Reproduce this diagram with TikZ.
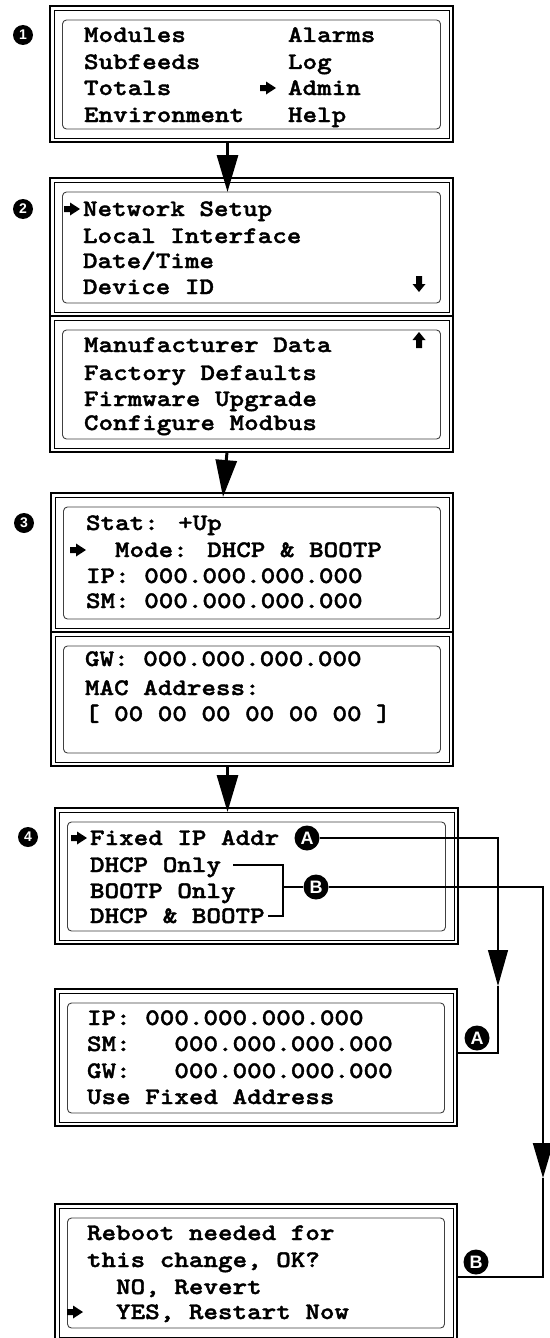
\documentclass[tikz,border=0pt]{standalone}
\usepackage{fontspec}
\newfontfamily\lcdfont{lmmonolt10-bold.otf}[FakeStretch=1.17,FakeBold=1.6]
\newfontfamily\circfont{Liberation Sans}
\usetikzlibrary{arrows.meta,fit}
\tikzset{
 scr/.style={draw, line width=2.8pt, inner sep=0pt, outer sep=0pt, rectangle},
 thinframe/.style={line width=0.8pt},
 lcdframe/.style={line width=0.9pt, draw=black!75, rounded corners=4pt},
 txt/.style={anchor=west, inner sep=0pt, outer sep=0pt, text height=14pt, text depth=0pt,
   font=\lcdfont\fontsize{23.7}{26}\selectfont},
 numc/.style={circle, fill=black, text=white, inner sep=0pt, minimum size=20pt,
   font=\circfont\bfseries\fontsize{14}{14}\selectfont},
 letc/.style={circle, fill=black, text=white, inner sep=0pt, minimum size=25pt,
   font=\circfont\bfseries\fontsize{18}{18}\selectfont},
 mainconn/.style={line width=3pt, -{Triangle[length=37pt,width=21pt]}},
 aconn/.style={line width=1.2pt},
 bconn/.style={line width=2pt},
 rarr/.pic={\fill (0,-3) -- (6,-3) -- (6,-6.5) -- (16,0) -- (6,6.5) -- (6,3) -- (0,3) -- cycle;},
 darr/.pic={\fill (-3,-8) -- (3,-8) -- (3,0) -- (6.5,0) -- (0,8) -- (-6.5,0) -- (-3,0) -- cycle;},
 uarr/.pic={\fill (-3,8) -- (3,8) -- (3,0) -- (6.5,0) -- (0,-8) -- (-6.5,0) -- (-3,0) -- cycle;},
}
\newcommand\lcdscreen[5]{%
  \node[scr, fit={(#2,#3) (#4,#5)}] (#1) {};
  \draw[thinframe] ([shift={(4pt,-4pt)}]#1.north west) rectangle ([shift={(-4pt,4pt)}]#1.south east);
  \draw[lcdframe] ([shift={(12.5pt,-14pt)}]#1.north west) rectangle ([shift={(-12.5pt,13pt)}]#1.south east);
}
\begin{document}
\begin{tikzpicture}[x=1pt,y=-1pt]
\fill[white] (0,0) rectangle (549,1338);
\useasboundingbox (0,0) rectangle (549,1338);

% screens
\lcdscreen{s1}{50}{6}{453}{142}
\lcdscreen{s2a}{50}{178}{453}{316}
\lcdscreen{s2b}{50}{316}{453}{452}
\lcdscreen{s3a}{51}{493}{453}{632}
\lcdscreen{s3b}{51}{632}{453}{766}
\lcdscreen{s4}{55}{808}{458}{944}
\lcdscreen{s5}{55}{989}{457}{1126}
\lcdscreen{s6}{55}{1204}{457}{1341}

% step numbers
\node[numc] (n1) at (23,35) {1};
\node[numc] (n2) at (23,209) {2};
\node[numc] (n3) at (24,523) {3};
\node[numc] (n4) at (28,837) {4};

% screen 1
\node[txt] (t1a) at (84,35) {Modules};
\node[txt] (t1b) at (84,62) {Subfeeds};
\node[txt] (t1c) at (84,88) {Totals};
\node[txt] (t1d) at (84,115) {Environment};
\node[txt] (t1e) at (288,35) {Alarms};
\node[txt] (t1f) at (288,62) {Log};
\node[txt] (t1g) at (288,88) {Admin};
\node[txt] (t1h) at (288,115) {Help};
\pic at (260,88) {rarr};

% screen 2
\node[txt] (t2a) at (83,209) {Network Setup};
\node[txt] (t2b) at (83,236) {Local Interface};
\node[txt] (t2c) at (83,261) {Date/Time};
\node[txt] (t2d) at (83,287) {Device ID};
\pic at (64,209) {rarr};
\pic at (419,284) {darr};
\node[txt] (t2e) at (84,345) {Manufacturer Data};
\node[txt] (t2f) at (84,373) {Factory Defaults};
\node[txt] (t2g) at (84,399) {Firmware Upgrade};
\node[txt] (t2h) at (84,423) {Configure Modbus};
\pic at (419,340) {uarr};

% screen 3
\node[txt] (t3a) at (86,523) {Stat: +Up};
\node[txt] (t3b) at (115,550) {Mode: DHCP \& BOOTP};
\node[txt] (t3c) at (86,576) {IP: 000.000.000.000};
\node[txt] (t3d) at (86,601) {SM: 000.000.000.000};
\pic at (70,550) {rarr};
\node[txt] (t3e) at (85,659) {GW: 000.000.000.000};
\node[txt] (t3f) at (85,688) {MAC Address:};
\node[txt] (t3g) at (85,714) {[ 00 00 00 00 00 00 ]};

% screen 4
\node[txt] (t4a) at (90,838) {Fixed IP Addr};
\node[txt] (t4b) at (90,865) {DHCP Only};
\node[txt] (t4c) at (90,891) {BOOTP Only};
\node[txt] (t4d) at (90,916) {DHCP \& BOOTP};
\pic at (71,838) {rarr};
\node[letc] (cA) at (307,838) {A};
\node[letc] (cB) at (316,887) {B};

% screen 5
\node[txt] (t5a) at (87,1018) {IP: 000.000.000.000};
\node[txt] (t5b) at (87,1044) {SM:~~~000.000.000.000};
\node[txt] (t5c) at (87,1071) {GW:~~~000.000.000.000};
\node[txt] (t5d) at (87,1097) {Use Fixed Address};
\node[letc] (cA2) at (477,1038) {A};

% screen 6
\node[txt] (t6a) at (87,1233) {Reboot needed for};
\node[txt] (t6b) at (87,1260) {this change, OK?};
\node[txt] (t6c) at (87,1287) {~~NO, Revert};
\node[txt] (t6d) at (87,1312) {~~YES, Restart Now};
\pic at (67,1312) {rarr};
\node[letc] (cB2) at (476,1262) {B};

% main connectors
\draw[mainconn] ([xshift=-24pt]s1.south) -- ([xshift=-24pt,yshift=-14pt]s2a.north);
\draw[mainconn] ([xshift=-24.5pt]s2b.south) -- ([xshift=-29pt,yshift=-4pt]s3a.north);
\draw[mainconn] ([xshift=-24.5pt]s3b.south) -- ([xshift=-29pt,yshift=-4pt]s4.north);

% branch A
\coordinate (ka) at (498,986);
\draw[aconn, -{Triangle[length=36pt,width=20pt]}] (cA.east) -| (ka);
\draw[aconn] (ka) |- ([yshift=4.5pt]s5.east);

% branch B
\coordinate (bj) at (283,887);
\coordinate (kb) at (543,1178);
\draw[bconn] ([xshift=12pt]t4b.east) -| (t4d.east -| bj) -- ([xshift=3pt]t4d.east);
\draw[bconn] (bj) -- (cB);
\draw[bconn, -{Triangle[length=35pt,width=20pt]}] (cB.east) -| (kb);
\draw[bconn] (kb) |- ([yshift=-4.5pt]s6.east);
\end{tikzpicture}
\end{document}
